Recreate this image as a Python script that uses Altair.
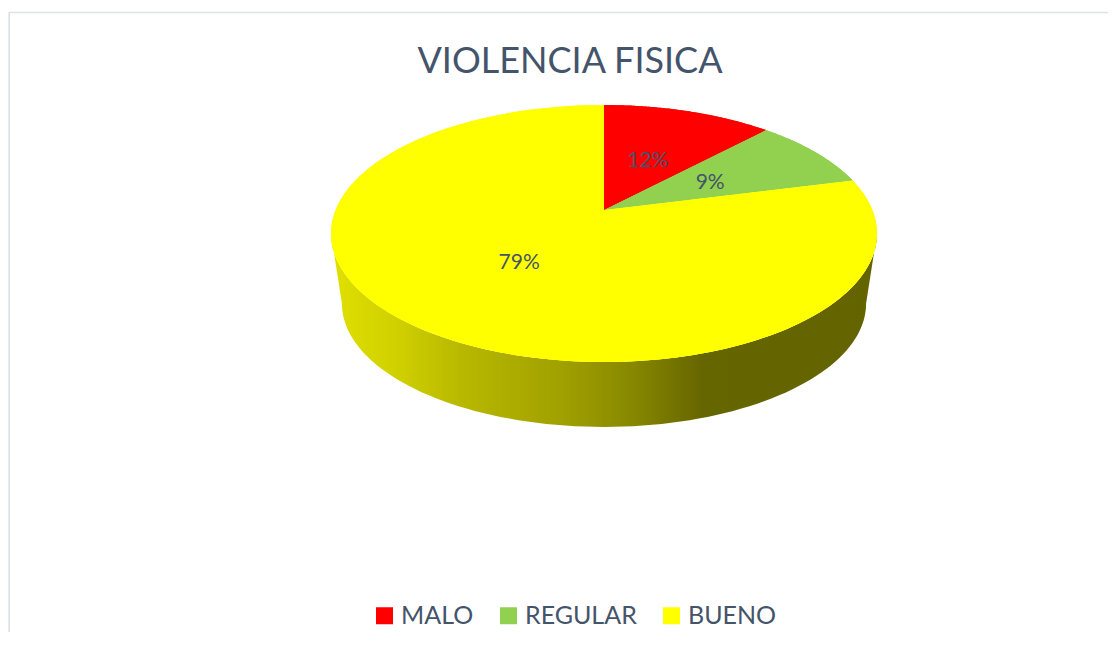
import math
import altair as alt
import pandas as pd

# ---- data ----
categories = ["MALO", "REGULAR", "BUENO"]
values = [12, 9, 79]
colors = ["#ff0000", "#92d050", "#ffff00"]
title_text = ["VIOLENCIA FISICA"]

# ---- layout / style ----
W, H = 1100, 624
M = 8
CX, CY = 604, 210          # apex of the pie (screen px)
RA, RB, PERSP = 268.4, 124.2, 0.183
DROP, SHRINK = 71, 0.96    # side wall
LABEL_R = 0.48
N = 90
TEXT = "#44546a"
FONT = "Lato"

df = pd.DataFrame({"cat": categories, "value": values, "idx": list(range(len(categories)))})

xs = alt.Scale(domain=[M, M + W], nice=False, zero=False)
ys = alt.Scale(domain=[M, M + H], nice=False, zero=False, reverse=True)
cs = alt.Scale(domain=categories, range=colors)
X = alt.X("px:Q", scale=xs, axis=None)
Y = alt.Y("py:Q", scale=ys, axis=None)


def rim_x(th, r="1"):
    return f"{CX} + {RA}*({r})*sin({th})/(1 + {PERSP}*({r})*cos({th}))"


def rim_y(th, r="1"):
    return f"{CY} - {RB}*({r})*cos({th})/(1 + {PERSP}*({r})*cos({th}))"


base = (
    alt.Chart(df)
    .transform_joinaggregate(total="sum(value)")
    .transform_window(cum="sum(value)", sort=[alt.SortField("idx", order="ascending")])
    .transform_calculate(
        a0="2*PI*(datum.cum - datum.value)/datum.total",
        a1="2*PI*datum.cum/datum.total",
    )
)

S1 = math.acos(-PERSP)
S2 = 2 * math.pi - S1

wall_grad = alt.LinearGradient(
    gradient="linear",
    stops=[
        alt.GradientStop(offset=0.0, color="#e0e000"),
        alt.GradientStop(offset=0.12, color="#d0d000"),
        alt.GradientStop(offset=0.24, color="#b8b800"),
        alt.GradientStop(offset=0.425, color="#a0a000"),
        alt.GradientStop(offset=0.55, color="#888800"),
        alt.GradientStop(offset=0.64, color="#707000"),
        alt.GradientStop(offset=0.68, color="#666600"),
        alt.GradientStop(offset=1.0, color="#636300"),
    ],
    x1=0, x2=1, y1=0, y2=0,
)

wall = (
    base.transform_calculate(t0=f"max(datum.a0, {S1})", t1=f"min(datum.a1, {S2})")
    .transform_filter("datum.t1 > datum.t0")
    .transform_calculate(k=f"sequence(0, {2 * N + 2})")
    .transform_flatten(["k"])
    .transform_calculate(
        j=f"datum.k <= {N} ? datum.k : {2 * N + 1} - datum.k",
        bot=f"datum.k > {N} ? 1 : 0",
    )
    .transform_calculate(th=f"datum.t0 + (datum.t1 - datum.t0)*datum.j/{N}")
    .transform_calculate(xt=rim_x("datum.th"), yt=rim_y("datum.th"))
    .transform_calculate(
        px=f"datum.bot ? {CX} + {SHRINK}*(datum.xt - {CX}) : datum.xt",
        py=f"datum.bot ? {CY} + {DROP} + {SHRINK}*(datum.yt - {CY}) : datum.yt",
    )
    .mark_line(fill=wall_grad, strokeOpacity=0)
    .encode(x=X, y=Y, order=alt.Order("k:Q"), detail="cat:N")
)

legend = alt.Legend(
    title=None,
    orient="none",
    direction="horizontal",
    legendX=372 - M,
    legendY=603 - M,
    symbolType="square",
    symbolSize=289,
    symbolStrokeWidth=0,
    labelFont=FONT,
    labelFontSize=25,
    labelColor=TEXT,
    labelOffset=4,
    columnPadding=22,
    padding=0,
)

top_base = (
    base.transform_calculate(k=f"sequence(0, {N + 2})")
    .transform_flatten(["k"])
    .transform_calculate(
        r="datum.k == 0 ? 0 : 1",
        th=f"datum.a0 + (datum.a1 - datum.a0)*max(datum.k - 1, 0)/{N}",
    )
    .transform_calculate(px=rim_x("datum.th", "datum.r"), py=rim_y("datum.th", "datum.r"))
    .mark_line(strokeOpacity=0)
    .encode(
        x=X,
        y=Y,
        order=alt.Order("k:Q"),
        detail="cat:N",
        fill=alt.Fill("cat:N", scale=cs, legend=legend),
    )
)

labels = (
    base.transform_calculate(
        m="(datum.a0 + datum.a1)/2",
        pct="format(datum.value/datum.total, '.0%')",
    )
    .transform_calculate(px=rim_x("datum.m", str(LABEL_R)), py=rim_y("datum.m", str(LABEL_R)))
    .mark_text(font=FONT, fontSize=21, color=TEXT, align="center", baseline="middle", dy=2)
    .encode(x=X, y=Y, text="pct:N")
)

title = (
    alt.Chart(pd.DataFrame({"t": title_text}))
    .mark_text(font=FONT, fontSize=36, color=TEXT, align="center", baseline="alphabetic")
    .encode(x=alt.value(570 - M), y=alt.value(73 - M), text="t:N")
)

frame = (
    alt.Chart(pd.DataFrame({"a": [0]}))
    .mark_rect(fillOpacity=0, stroke="#dde1e7", strokeWidth=1.6)
    .encode(x=alt.value(1.2), x2=alt.value(1400), y=alt.value(4.5), y2=alt.value(900))
)

# top face drawn twice so the anti-aliased seams between slices disappear
chart = (
    alt.layer(frame, wall, top_base, top_base, labels, title)
    .properties(width=W, height=H, padding=0, autosize="none", background="white")
    .configure_view(strokeWidth=0)
)

chart.save("out.html", embed_options={"renderer": "svg", "actions": False})
